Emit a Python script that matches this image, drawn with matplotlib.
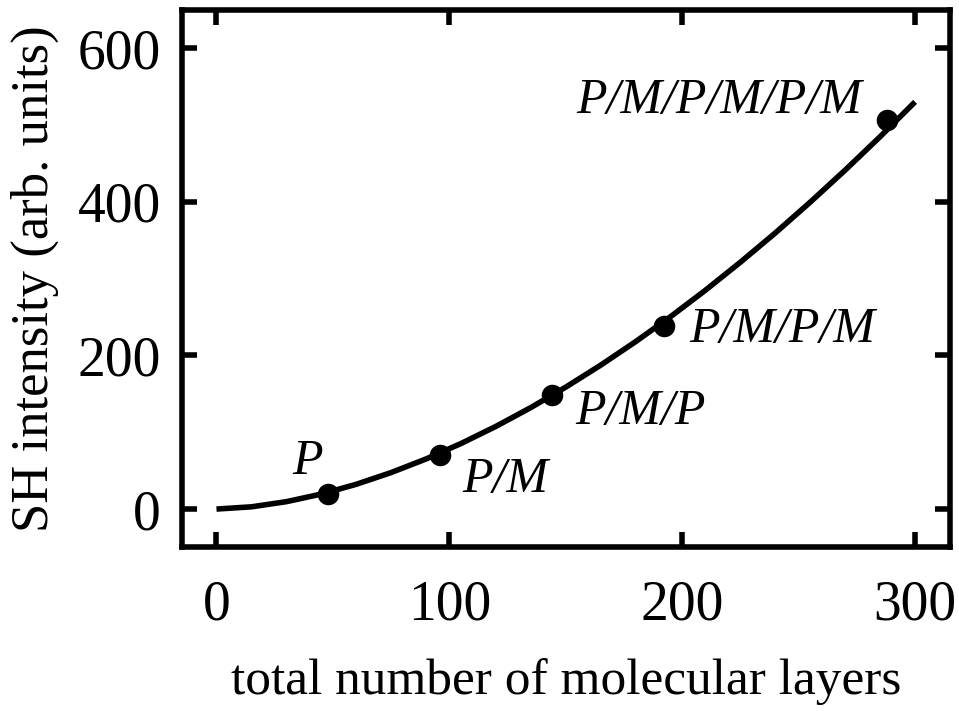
import matplotlib
matplotlib.use('Agg')
import matplotlib.pyplot as plt

layers = [48, 96, 144, 192, 288]
sh_intensity = [20, 70, 148, 238, 507]
sample_names = ['P', 'P/M', 'P/M/P', 'P/M/P/M', 'P/M/P/M/P/M']

# label anchor points (data coords) for each sample name
label_x = [39, 124, 182, 243, 216]
label_y = [62, 38, 127, 233, 531]

# fitted curve
fit_x = [0, 15, 30, 45, 60, 75, 90, 105, 120, 135, 150, 165, 180, 195,
         210, 225, 240, 255, 270, 285, 300]
fit_y = [0, 2.9, 9.6, 19.5, 32.2, 47.5, 65.2, 85.3, 107.6, 132.1, 158.7,
         187.3, 217.9, 250.4, 284.9, 321.3, 359.4, 399.5, 441.2, 484.7, 530]

x_ticks = [0, 100, 200, 300]
y_ticks = [0, 200, 400, 600]

plt.rcParams['font.family'] = ['Liberation Serif', 'DejaVu Serif']

fig = plt.figure(figsize=(9.59, 7.11), dpi=100)
ax = fig.add_axes([0.1893, 0.2300, 0.8013, 0.7564])

ax.plot(fit_x, fit_y, color='black', linewidth=4, solid_capstyle='butt', zorder=2)
ax.plot(layers, sh_intensity, 'o', color='black', markersize=14.5, zorder=3)

for name, lx, ly in zip(sample_names, label_x, label_y):
    ax.text(lx, ly, name, fontsize=36, style='italic', ha='center', va='center')

ax.set_xlim(-15, 315)
ax.set_ylim(-50, 650)
ax.set_xticks(x_ticks)
ax.set_yticks(y_ticks)

for side in ['left', 'right', 'top', 'bottom']:
    ax.spines[side].set_linewidth(4)

ax.tick_params(axis='both', which='both', direction='in', top=True, right=True,
               length=11, width=4, labelsize=40)
ax.tick_params(axis='x', pad=23)
ax.tick_params(axis='y', pad=15)

ax.set_xlabel('total number of molecular layers', fontsize=37)
ax.set_ylabel('SH intensity (arb. units)', fontsize=38)
ax.xaxis.set_label_coords(0.5, -0.206)
ax.yaxis.set_label_coords(-0.159, 0.5)

fig.savefig('out.png', dpi=100)
